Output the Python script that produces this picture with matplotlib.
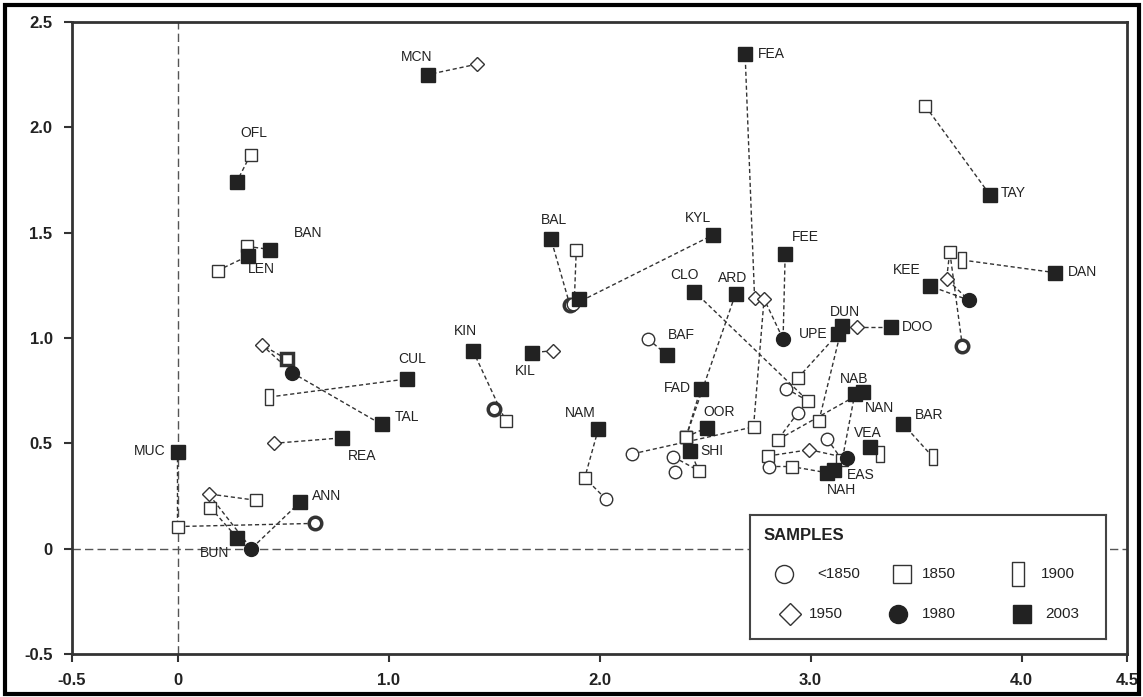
import matplotlib
matplotlib.use("Agg")
import matplotlib.pyplot as plt
from matplotlib.patches import Rectangle
from matplotlib.path import Path

plt.rcParams['font.family'] = ['Liberation Sans', 'DejaVu Sans']

# trajectories of each site: (sample year, x, y)
MUC = [("<1850", 0.65, 0.12), ("1850", 0.0, 0.105), ("2003", 0.0, 0.46)]
BUN = [("1850", 0.156, 0.195), ("2003", 0.284, 0.05)]
ANN = [("1850", 0.37, 0.23), ("1950", 0.147, 0.26), ("1980", 0.35, 0.0), ("2003", 0.58, 0.22)]
TAL = [("1850", 0.517, 0.90), ("1950", 0.40, 0.967), ("1980", 0.545, 0.834), ("2003", 0.967, 0.59)]
CUL = [("1900", 0.436, 0.72), ("2003", 1.09, 0.806)]
REA = [("1950", 0.455, 0.50), ("2003", 0.78, 0.526)]
OFL = [("1850", 0.346, 1.87), ("2003", 0.28, 1.74)]
BAN = [("1850", 0.33, 1.435), ("2003", 0.44, 1.42)]
LEN = [("1850", 0.19, 1.32), ("2003", 0.336, 1.39)]
MCN = [("1950", 1.42, 2.30), ("2003", 1.185, 2.25)]
BAL = [("<1850", 1.86, 1.155), ("2003", 1.77, 1.47)]
KYL = [("1850", 1.89, 1.42), ("1950", 1.88, 1.16), ("2003", 2.54, 1.49)]
XBL = [("<1850", 1.875, 1.16), ("2003", 1.905, 1.185)]
KIN = [("<1850", 1.50, 0.665), ("1850", 1.555, 0.607), ("2003", 1.40, 0.94)]
KIL = [("1950", 1.78, 0.94), ("2003", 1.68, 0.93)]
BAF = [("<1850", 2.23, 0.995), ("2003", 2.32, 0.92)]
NAM = [("<1850", 2.03, 0.236), ("1850", 1.93, 0.336), ("2003", 1.995, 0.57)]
CLO = [("<1850", 2.885, 0.76), ("1850", 2.99, 0.70), ("2003", 2.45, 1.22)]
ARD = [("1850", 2.41, 0.53), ("2003", 2.645, 1.21)]
FAD = [("1850", 2.41, 0.53), ("2003", 2.48, 0.76)]
OOR = [("1850", 2.41, 0.53), ("2003", 2.51, 0.575)]
SHI = [("<1850", 2.35, 0.436), ("1850", 2.47, 0.37), ("2003", 2.43, 0.465)]
XSH = [("<1850", 2.36, 0.365)]
FEA = [("1950", 2.735, 1.19), ("2003", 2.69, 2.35)]
FEE = [("<1850", 2.156, 0.45), ("1850", 2.73, 0.578), ("1950", 2.78, 1.185), ("1980", 2.87, 0.995), ("2003", 2.88, 1.40)]
UPE = [("1850", 2.94, 0.81), ("2003", 3.13, 1.02)]
DUN = [("1850", 3.04, 0.607), ("2003", 3.15, 1.057)]
DOO = [("1950", 3.22, 1.05), ("2003", 3.38, 1.05)]
NAN = [("<1850", 2.94, 0.645), ("1850", 2.845, 0.517), ("2003", 3.25, 0.745)]
NAB = [("<1850", 3.08, 0.52), ("1850", 3.15, 0.42), ("2003", 3.21, 0.735)]
EAS = [("1850", 2.80, 0.44), ("1950", 2.995, 0.47), ("1980", 3.175, 0.43), ("2003", 3.11, 0.375)]
NAH = [("<1850", 2.805, 0.39), ("1850", 2.91, 0.39), ("2003", 3.08, 0.36)]
VEA = [("1900", 3.33, 0.45), ("2003", 3.28, 0.483)]
BAR = [("1900", 3.58, 0.435), ("2003", 3.44, 0.59)]
TAY = [("1850", 3.545, 2.10), ("2003", 3.85, 1.68)]
DAN = [("1900", 3.72, 1.37), ("2003", 4.16, 1.31)]
KEE = [("<1850", 3.72, 0.96), ("1850", 3.66, 1.41), ("1950", 3.645, 1.28), ("1980", 3.75, 1.18), ("2003", 3.565, 1.247)]

sites = [("MUC", MUC), ("BUN", BUN), ("ANN", ANN), ("TAL", TAL), ("CUL", CUL), ("REA", REA),
         ("OFL", OFL), ("BAN", BAN), ("LEN", LEN), ("MCN", MCN), ("BAL", BAL), ("KYL", KYL),
         ("", XBL), ("KIN", KIN), ("KIL", KIL), ("BAF", BAF), ("NAM", NAM), ("CLO", CLO),
         ("ARD", ARD), ("FAD", FAD), ("OOR", OOR), ("SHI", SHI), ("", XSH), ("FEA", FEA),
         ("FEE", FEE), ("UPE", UPE), ("DUN", DUN), ("DOO", DOO), ("NAN", NAN), ("NAB", NAB),
         ("EAS", EAS), ("NAH", NAH), ("VEA", VEA), ("BAR", BAR), ("TAY", TAY), ("DAN", DAN),
         ("KEE", KEE)]

# label placement (pixels from the 2003 marker)
label_offsets = {
    "MUC": (-28, 1), "BUN": (-23, -15), "ANN": (27, 6), "CUL": (5, 20), "TAL": (25, 7),
    "REA": (20, -18), "OFL": (17, 49), "BAN": (38, 17), "LEN": (13, -13), "MCN": (-11, 18),
    "BAL": (3, 19), "KYL": (-15, 17), "FEA": (26, 0), "FEE": (20, 17), "CLO": (-10, 17),
    "ARD": (-3, 16), "KIN": (-7, 20), "KIL": (-7, -18), "BAF": (14, 20), "NAM": (-18, 16),
    "FAD": (-23, 1), "OOR": (12, 16), "SHI": (22, 0), "UPE": (-25, 0), "DUN": (3, 14),
    "DOO": (27, 0), "KEE": (-23, 16), "TAY": (23, 2), "DAN": (27, 1), "NAB": (-1, 15),
    "NAN": (16, -16), "VEA": (-2, 14), "BAR": (26, 9), "EAS": (27, -5), "NAH": (14, -17),
}
bold_pts = {("MUC", "<1850"), ("KIN", "<1850"), ("BAL", "<1850"), ("KEE", "<1850"), ("TAL", "1850")}

years = ["<1850", "1850", "1900", "1950", "1980", "2003"]

rect = Path([(-0.25, -0.5), (0.25, -0.5), (0.25, 0.5), (-0.25, 0.5), (-0.25, -0.5)],
            [Path.MOVETO, Path.LINETO, Path.LINETO, Path.LINETO, Path.CLOSEPOLY])
dark = '#222222'
styles = {
    "<1850": dict(marker='o', ms=9, mfc='white', mec='#333333'),
    "1850": dict(marker='s', ms=9, mfc='white', mec='#333333'),
    "1900": dict(marker=rect, ms=12, mfc='white', mec='#333333'),
    "1950": dict(marker='D', ms=7.5, mfc='white', mec='#333333'),
    "1980": dict(marker='o', ms=10, mfc=dark, mec=dark),
    "2003": dict(marker='s', ms=10, mfc=dark, mec=dark),
}

fig = plt.figure(figsize=(11.43, 6.97), dpi=100)
ax = fig.add_axes([72 / 1143, 43 / 697, 1055 / 1143, 632 / 697])
ax.set_xlim(-0.5, 4.5)
ax.set_ylim(-0.5, 2.5)

ax.axvline(0, color='#555555', lw=1, ls=(0, (6, 3)), zorder=1)
ax.axhline(0, color='#555555', lw=1, ls=(0, (6, 3)), zorder=1)

for name, pts in sites:
    xs = [p[1] for p in pts]
    ys = [p[2] for p in pts]
    if len(pts) > 1:
        ax.plot(xs, ys, color='#333333', lw=1, ls=(0, (3, 2)), zorder=2)
    for yr, x, y in pts:
        mew = 2.5 if (name, yr) in bold_pts else 1
        ax.plot([x], [y], ls='none', mew=mew, zorder=3, **styles[yr])
    if name:
        x2, y2 = [(p[1], p[2]) for p in pts if p[0] == "2003"][0]
        ax.annotate(name, xy=(x2, y2), xytext=label_offsets[name], textcoords='offset pixels',
                    ha='center', va='center', fontsize=10, color=dark, zorder=4)

ax.set_xticks([-0.5, 0, 1, 2, 3, 4, 4.5])
ax.set_xticklabels(["-0.5", "0", "1.0", "2.0", "3.0", "4.0", "4.5"])
ax.set_yticks([-0.5, 0, 0.5, 1, 1.5, 2, 2.5])
ax.set_yticklabels(["-0.5", "0", "0.5", "1.0", "1.5", "2.0", "2.5"])
ax.tick_params(direction='out', length=6, width=1.5, color='#333333', pad=8,
               labelsize=12, labelcolor=dark)
for lab in ax.get_xticklabels() + ax.get_yticklabels():
    lab.set_fontweight('bold')
for sp in ax.spines.values():
    sp.set_color('#333333')
    sp.set_linewidth(2)

# legend box
lg = fig.add_axes([750 / 1143, 58 / 697, 356 / 1143, 124 / 697])
lg.set_xlim(0, 356)
lg.set_ylim(124, 0)
lg.set_xticks([])
lg.set_yticks([])
lg.set_facecolor('white')
for sp in lg.spines.values():
    sp.set_color('#444444')
    sp.set_linewidth(1.5)
lg.text(14, 21, "SAMPLES", fontsize=12, fontweight='bold', color=dark, va='center', ha='left')
leg_pos = {"<1850": (34, 59, 67), "1850": (152, 59, 172), "1900": (268, 59, 291),
           "1950": (40, 99, 59), "1980": (148, 99, 172), "2003": (272, 99, 295)}
leg_ms = {"<1850": 13, "1850": 13, "1900": 17, "1950": 11, "1980": 13, "2003": 13}
for yr in years:
    mx, my, tx = leg_pos[yr]
    st = dict(styles[yr])
    st['ms'] = leg_ms[yr]
    lg.plot([mx], [my], ls='none', mew=1, **st)
    lg.text(tx, my, yr, fontsize=11, color=dark, va='center', ha='left')

# outer frame
fig.patches.append(Rectangle((5 / 1143, 3 / 697), 1134 / 1143, 689 / 697, transform=fig.transFigure,
                             fill=False, edgecolor='black', lw=3))

fig.savefig("out.png", dpi=100)
